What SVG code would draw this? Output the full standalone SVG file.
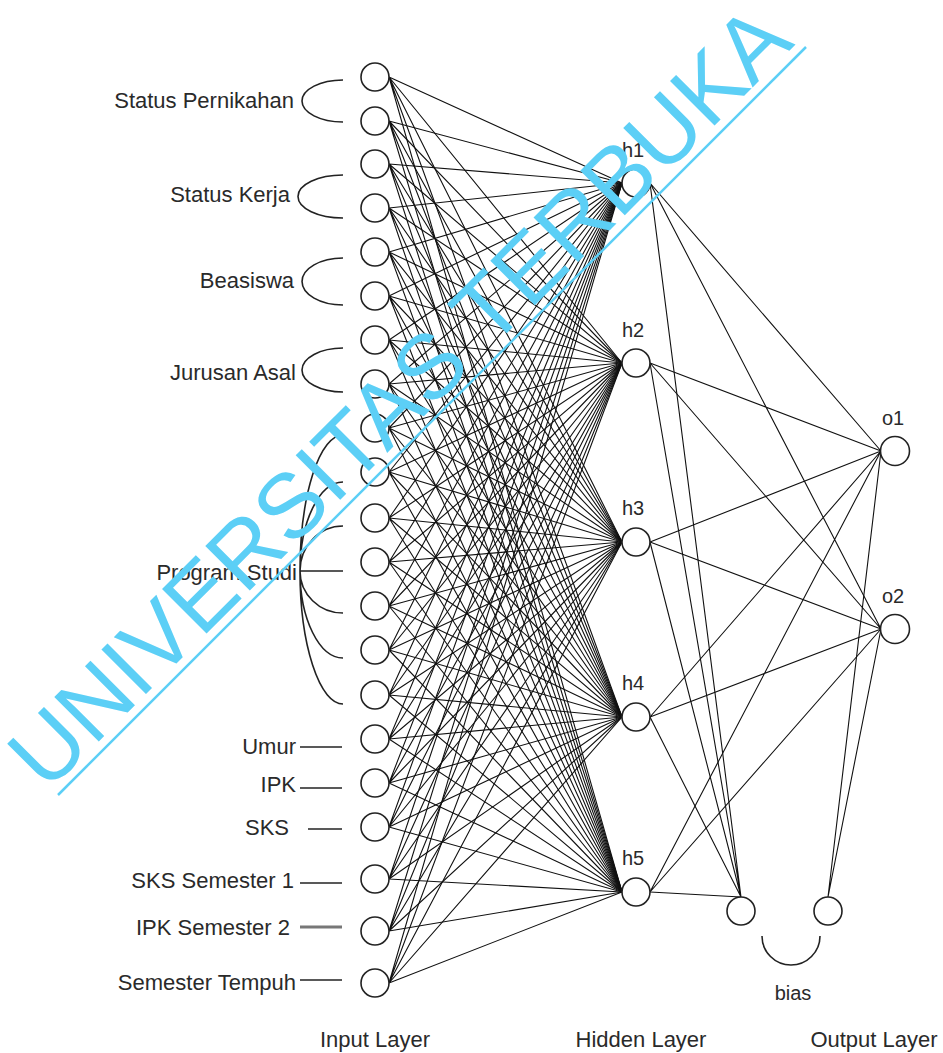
<svg xmlns="http://www.w3.org/2000/svg" width="943" height="1053" viewBox="0 0 943 1053">
<style>
.lbl{font-family:"Liberation Sans",Arial,sans-serif;font-size:22px;fill:#2a2a2a}
.hl{font-family:"Liberation Sans",Arial,sans-serif;font-size:20px;fill:#2a2a2a;text-anchor:middle}
.node{fill:#fff;stroke:#222;stroke-width:1.6}
.w{stroke:#111;stroke-width:1.1;fill:none}
.br{stroke:#222;stroke-width:1.6;fill:none}
.wm{font-family:"Liberation Sans",Arial,sans-serif;font-size:91.5px;fill:#5ccff6}
</style>
<rect width="943" height="1053" fill="#fff"/>
<g id="connectors">
<path class="w" d="M389,77L622,183M389,77L622,363M389,77L622,542M389,77L622,717M389,77L622,892"/>
<path class="w" d="M389,121L622,183M389,121L622,363M389,121L622,542M389,121L622,717M389,121L622,892"/>
<path class="w" d="M389,164L622,183M389,164L622,363M389,164L622,542M389,164L622,717M389,164L622,892"/>
<path class="w" d="M389,208L622,183M389,208L622,363M389,208L622,542M389,208L622,717M389,208L622,892"/>
<path class="w" d="M389,252L622,183M389,252L622,363M389,252L622,542M389,252L622,717M389,252L622,892"/>
<path class="w" d="M389,296L622,183M389,296L622,363M389,296L622,542M389,296L622,717M389,296L622,892"/>
<path class="w" d="M389,340L622,183M389,340L622,363M389,340L622,542M389,340L622,717M389,340L622,892"/>
<path class="w" d="M389,384L622,183M389,384L622,363M389,384L622,542M389,384L622,717M389,384L622,892"/>
<path class="w" d="M389,428L622,183M389,428L622,363M389,428L622,542M389,428L622,717M389,428L622,892"/>
<path class="w" d="M389,472L622,183M389,472L622,363M389,472L622,542M389,472L622,717M389,472L622,892"/>
<path class="w" d="M389,518L622,183M389,518L622,363M389,518L622,542M389,518L622,717M389,518L622,892"/>
<path class="w" d="M389,562L622,183M389,562L622,363M389,562L622,542M389,562L622,717M389,562L622,892"/>
<path class="w" d="M389,606L622,183M389,606L622,363M389,606L622,542M389,606L622,717M389,606L622,892"/>
<path class="w" d="M389,650L622,183M389,650L622,363M389,650L622,542M389,650L622,717M389,650L622,892"/>
<path class="w" d="M389,695L622,183M389,695L622,363M389,695L622,542M389,695L622,717M389,695L622,892"/>
<path class="w" d="M389,739L622,183M389,739L622,363M389,739L622,542M389,739L622,717M389,739L622,892"/>
<path class="w" d="M389,783L622,183M389,783L622,363M389,783L622,542M389,783L622,717M389,783L622,892"/>
<path class="w" d="M389,827L622,183M389,827L622,363M389,827L622,542M389,827L622,717M389,827L622,892"/>
<path class="w" d="M389,879L622,183M389,879L622,363M389,879L622,542M389,879L622,717M389,879L622,892"/>
<path class="w" d="M389,931L622,183M389,931L622,363M389,931L622,542M389,931L622,717M389,931L622,892"/>
<path class="w" d="M389,983L622,183M389,983L622,363M389,983L622,542M389,983L622,717M389,983L622,892"/>
<path class="w" d="M650,183L881,451M650,183L881,629M650,363L881,451M650,363L881,629M650,542L881,451M650,542L881,629M650,717L881,451M650,717L881,629M650,892L881,451M650,892L881,629"/>
<path class="w" d="M650,183L741,897M650,363L741,897M650,542L741,897M650,717L741,897M650,892L741,897"/>
<path class="w" d="M828,897L881,451M828,897L881,629"/>
</g>
<g id="input-labels">
<text class="lbl" x="294" y="108" text-anchor="end">Status Pernikahan</text>
<path class="br" d="M343,80A41,21 0 0 0 343,122"/>
<text class="lbl" x="290" y="202" text-anchor="end">Status Kerja</text>
<path class="br" d="M343,175A45,21.5 0 0 0 343,218"/>
<text class="lbl" x="294" y="288" text-anchor="end">Beasiswa</text>
<path class="br" d="M343,258A41,23.5 0 0 0 343,305"/>
<text class="lbl" x="296" y="380" text-anchor="end">Jurusan Asal</text>
<path class="br" d="M343,348A41,22 0 0 0 343,392"/>
<text class="lbl" x="297" y="580" text-anchor="end">Program Studi</text>
<path class="br" d="M343,435A43,136 0 0 0 300,571A43,133 0 0 0 343,704M343,482A43,89 0 0 0 300,571A43,87 0 0 0 343,658M343,526A43,45 0 0 0 300,571A43,42 0 0 0 343,613M300,571L343,571"/>
<text class="lbl" x="296" y="754" text-anchor="end">Umur</text>
<path class="br" d="M300,747L342,747"/>
<text class="lbl" x="296" y="792" text-anchor="end">IPK</text>
<path class="br" d="M300,788L342,788"/>
<text class="lbl" x="289" y="835" text-anchor="end">SKS</text>
<path class="br" d="M308,829L342,829"/>
<text class="lbl" x="294" y="888" text-anchor="end">SKS Semester 1</text>
<path class="br" d="M300,883L342,883"/>
<text class="lbl" x="290" y="935" text-anchor="end">IPK Semester 2</text>
<path d="M300,927L342,927" stroke="#777" stroke-width="3.2"/>
<text class="lbl" x="296" y="990" text-anchor="end">Semester Tempuh</text>
<path class="br" d="M300,980L342,980"/>
</g>
<g id="input-nodes">
<circle class="node" cx="375" cy="77" r="14"/>
<circle class="node" cx="375" cy="121" r="14"/>
<circle class="node" cx="375" cy="164" r="14"/>
<circle class="node" cx="375" cy="208" r="14"/>
<circle class="node" cx="375" cy="252" r="14"/>
<circle class="node" cx="375" cy="296" r="14"/>
<circle class="node" cx="375" cy="340" r="14"/>
<circle class="node" cx="375" cy="384" r="14"/>
<circle class="node" cx="375" cy="428" r="14"/>
<circle class="node" cx="375" cy="472" r="14"/>
<circle class="node" cx="375" cy="518" r="14"/>
<circle class="node" cx="375" cy="562" r="14"/>
<circle class="node" cx="375" cy="606" r="14"/>
<circle class="node" cx="375" cy="650" r="14"/>
<circle class="node" cx="375" cy="695" r="14"/>
<circle class="node" cx="375" cy="739" r="14"/>
<circle class="node" cx="375" cy="783" r="14"/>
<circle class="node" cx="375" cy="827" r="14"/>
<circle class="node" cx="375" cy="879" r="14"/>
<circle class="node" cx="375" cy="931" r="14"/>
<circle class="node" cx="375" cy="983" r="14"/>
</g>
<g id="h1"><circle class="node" cx="636" cy="183" r="14"/><text class="hl" x="633" y="157">h1</text></g>
<g id="h2"><circle class="node" cx="636" cy="363" r="14"/><text class="hl" x="633" y="337">h2</text></g>
<g id="h3"><circle class="node" cx="636" cy="542" r="14"/><text class="hl" x="633" y="515">h3</text></g>
<g id="h4"><circle class="node" cx="636" cy="717" r="14"/><text class="hl" x="633" y="690">h4</text></g>
<g id="h5"><circle class="node" cx="636" cy="892" r="14"/><text class="hl" x="633" y="865">h5</text></g>
<g id="o1"><circle class="node" cx="895" cy="451" r="14.5"/><text class="hl" x="893" y="425">o1</text></g>
<g id="o2"><circle class="node" cx="895" cy="629" r="14.5"/><text class="hl" x="893" y="603">o2</text></g>
<g id="bias">
<circle class="node" cx="741" cy="911" r="14"/>
<circle class="node" cx="828" cy="911" r="14"/>
<path class="br" d="M762,936A29,29 0 0 0 820,936"/>
<text class="hl" x="793" y="1000">bias</text>
</g>
<g id="layer-labels">
<text class="lbl" x="375" y="1047" text-anchor="middle">Input Layer</text>
<text class="lbl" x="641" y="1047" text-anchor="middle">Hidden Layer</text>
<text class="lbl" x="874" y="1047" text-anchor="middle">Output Layer</text>
</g>
<g id="watermark">
<text class="wm" transform="rotate(-45)" x="-528" y="594">UNIVERSITAS TERBUKA</text>
<line x1="58" y1="795" x2="806" y2="47" stroke="#5ccff6" stroke-width="2.5"/>
</g>
</svg>
